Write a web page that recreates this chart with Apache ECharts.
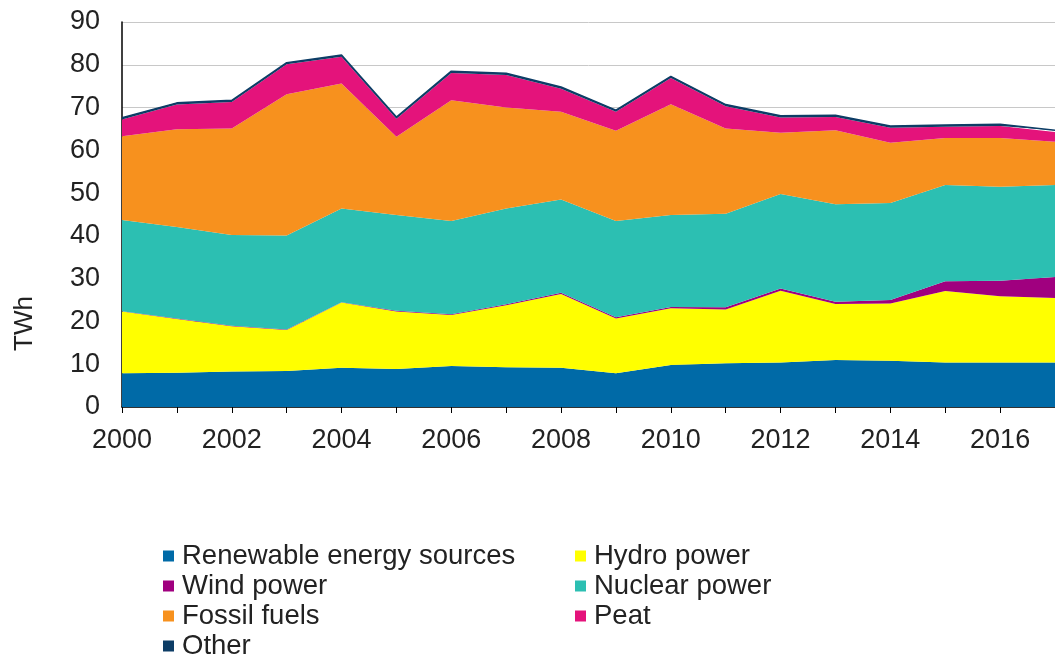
<!DOCTYPE html>
<html>
<head>
<meta charset="utf-8">
<script src="https://cdn.jsdelivr.net/npm/echarts@6/dist/echarts.min.js"></script>
<style>
  html, body { margin: 0; padding: 0; background: #fff; }
  #chart { width: 1055px; height: 657px; }
</style>
</head>
<body>
<div id="chart"></div>
<script>
// 年份
const years = ["2000", "2001", "2002", "2003", "2004", "2005", "2006", "2007", "2008",
  "2009", "2010", "2011", "2012", "2013", "2014", "2015", "2016", "2017"];

// 各能源发电量 (TWh)
const renewable = [7.9, 8.0, 8.3, 8.4, 9.2, 8.9, 9.6, 9.3, 9.2, 7.9, 9.8, 10.2, 10.4, 11.0, 10.8, 10.4, 10.4, 10.4];
const hydro = [14.4, 12.6, 10.6, 9.6, 15.2, 13.4, 11.9, 14.5, 17.2, 12.8, 13.3, 12.6, 16.8, 13.1, 13.4, 16.7, 15.5, 15.1];
const wind = [0.1, 0.1, 0.1, 0.1, 0.1, 0.2, 0.2, 0.2, 0.3, 0.3, 0.3, 0.5, 0.5, 0.5, 0.8, 2.3, 3.6, 4.9];
const nuclear = [21.3, 21.4, 21.2, 22.0, 21.9, 22.4, 21.8, 22.4, 21.8, 22.5, 21.5, 21.9, 22.1, 22.8, 22.7, 22.5, 22.0, 21.5];
const fossil = [19.6, 22.8, 24.9, 33.0, 29.2, 18.3, 28.2, 23.6, 20.5, 21.1, 25.9, 19.9, 14.3, 17.3, 14.1, 11.0, 11.4, 10.1];
const peat = [3.9, 5.8, 6.2, 7.0, 6.3, 4.2, 6.4, 7.6, 5.4, 4.4, 6.1, 5.2, 3.6, 3.1, 3.5, 2.6, 2.8, 2.3];
const other = [0.4, 0.4, 0.4, 0.4, 0.4, 0.4, 0.4, 0.4, 0.4, 0.4, 0.4, 0.4, 0.4, 0.4, 0.4, 0.4, 0.4, 0.4];

const names = ["Renewable energy sources", "Hydro power", "Wind power", "Nuclear power",
  "Fossil fuels", "Peat", "Other"];
const colors = ["#006aa7", "#ffff00", "#a0007f", "#2cbfb2", "#f7911e", "#e4137b", "#0d3d66"];
const values = [renewable, hydro, wind, nuclear, fossil, peat, other];

const chart = echarts.init(document.getElementById("chart"));

const series = names.map((n, i) => ({
  name: n,
  type: "line",
  stack: "total",
  data: values[i],
  symbol: "none",
  lineStyle: i === 6 ? { width: 1.5, color: "#0d3d66" } : { width: 0 },
  areaStyle: { color: colors[i], opacity: 1 },
  itemStyle: { color: colors[i] },
  z: 2
}));

const font = "Liberation Sans, Arial";

// 图例：两列，每项单独定位
const legendPos = [[163, 542], [575, 542], [163, 572], [575, 572], [163, 602], [575, 602], [163, 632]];
const legends = names.map((n, i) => ({
  data: [n],
  left: legendPos[i][0], top: legendPos[i][1],
  padding: 0,
  itemWidth: 11, itemHeight: 11, itemGap: 0, icon: "rect",
  textStyle: { fontFamily: font, fontSize: 27.5, lineHeight: 26, color: "#222", padding: [0, 0, 0, 3] }
}));

chart.setOption({
  animation: false,
  grid: { left: 122, right: 0, top: 22, bottom: 250 },
  xAxis: {
    type: "category",
    data: years,
    boundaryGap: false,
    axisLine: { lineStyle: { color: "#000", width: 1.5 } },
    axisTick: { show: true, interval: 0, length: 6, lineStyle: { color: "#000" } },
    axisLabel: {
      interval: 1, margin: 20, color: "#222",
      fontFamily: font, fontSize: 27
    },
    splitLine: { show: false }
  },
  yAxis: {
    type: "value",
    min: 0, max: 90, interval: 10,
    axisLine: { show: true, lineStyle: { color: "#000", width: 1.5 } },
    axisTick: { show: false },
    axisLabel: {
      margin: 22, color: "#222",
      fontFamily: font, fontSize: 27
    },
    splitLine: { lineStyle: { color: "#c8c8c8", width: 1 } }
  },
  legend: legends,
  graphic: [{
    type: "text",
    left: 12, top: 296,
    rotation: Math.PI / 2,
    style: { text: "TWh", font: "26px " + font, fill: "#222" }
  }],
  series: series
});
</script>
</body>
</html>
